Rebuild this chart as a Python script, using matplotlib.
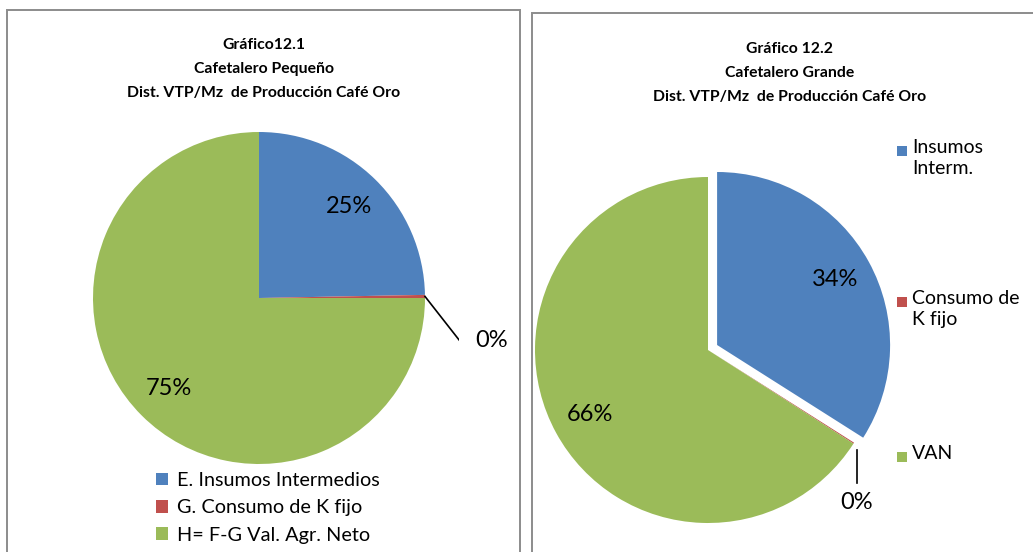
import numpy as np
import matplotlib.pyplot as plt
from matplotlib.patches import Rectangle

plt.rcParams['font.family'] = ['Lato', 'DejaVu Sans']

# data
labels_left = ["E. Insumos Intermedios", "G. Consumo de K fijo", "H= F-G Val. Agr. Neto"]
values_left = [24.7, 0.3, 75.0]
labels_right = ["Insumos\nInterm.", "Consumo de\nK fijo", "VAN"]
values_right = [34.0, 0.1, 65.9]
colors = ["#4F81BD", "#C0504D", "#9BBB59"]

title_left = "Gráfico12.1\nCafetalero Pequeño\nDist. VTP/Mz  de Producción Café Oro"
title_right = "Gráfico 12.2\nCafetalero Grande\nDist. VTP/Mz  de Producción Café Oro"

W, H = 1033, 552
fig = plt.figure(figsize=(W / 100, H / 100), dpi=100)


def px_axes(cx, cy, size=400):
    # square axes centred on pixel (cx, cy)
    return fig.add_axes([(cx - size / 2) / W, (H - cy - size / 2) / H, size / W, size / H])


def fix_limits(ax, r, size=400):
    # pie radius 1 -> r pixels
    lim = size / 2 / r
    ax.set_xlim(-lim, lim)
    ax.set_ylim(-lim, lim)
    ax.set_aspect('equal')
    ax.axis('off')


def pct(v):
    return "%d%%" % round(v)


# panel frames
fig.patches.append(Rectangle((7 / W, -0.05), (520 - 7) / W, (H - 10) / H + 0.05,
                             transform=fig.transFigure, fill=False, ec="#8c8c8c", lw=1.4))
fig.patches.append(Rectangle((532 / W, -0.05), 0.6, (H - 13) / H + 0.05,
                             transform=fig.transFigure, fill=False, ec="#8c8c8c", lw=1.4))

fig.text(264 / W, 1 - 69 / H, title_left, ha='center', va='center', fontsize=11.3,
         fontweight='bold', linespacing=1.9)
fig.text(790 / W, 1 - 73 / H, title_right, ha='center', va='center', fontsize=11.3,
         fontweight='bold', linespacing=1.9)

# left pie
ax1 = px_axes(259, 298)
w1, _ = ax1.pie(values_left, colors=colors, startangle=90, counterclock=False,
                radius=1, wedgeprops=dict(linewidth=0))
fix_limits(ax1, 166)
for w, v in zip(w1, values_left):
    th = np.deg2rad((w.theta1 + w.theta2) / 2)
    if v > 1:
        ax1.text(0.77 * np.cos(th), 0.77 * np.sin(th), pct(v), ha='center', va='center',
                 fontsize=17)
    else:
        x0, y0 = np.cos(th), np.sin(th)
        x1, y1 = x0 + 0.235, y0 - 0.30
        ax1.plot([x0, x1, x1 + 0.045], [y0, y1, y1], color='black', lw=1.2)
        ax1.text(x1 + 0.07, y1 + 0.035, pct(v), ha='left', va='center', fontsize=17)

ax1.legend(w1, labels_left, loc='upper left', bbox_to_anchor=(156 / W, 1 - 472 / H),
           bbox_transform=fig.transFigure, frameon=False, fontsize=14.3,
           handlelength=0.6, handleheight=0.6, handletextpad=0.45, labelspacing=0.52,
           borderpad=0, borderaxespad=0)

# right pie
ax2 = px_axes(708, 350)
w2, _ = ax2.pie(values_right, colors=colors, startangle=90, counterclock=False,
                radius=1, explode=[0.06, 0, 0], wedgeprops=dict(linewidth=0))
fix_limits(ax2, 173)
for w, v in zip(w2, values_right):
    th = np.deg2rad((w.theta1 + w.theta2) / 2)
    cx, cy = w.center
    if v > 1:
        ax2.text(cx + 0.78 * np.cos(th), cy + 0.78 * np.sin(th), pct(v), ha='center',
                 va='center', fontsize=17)
    else:
        x0, y0 = 1.02 * np.cos(th), 1.02 * np.sin(th)
        ax2.plot([x0, x0], [y0 - 0.03, y0 - 0.22], color='black', lw=1.2)
        ax2.text(x0, y0 - 0.33, pct(v), ha='center', va='center', fontsize=17)

# right legend, entries spread down the side
leg_y = [151, 302, 457]
for w, lab, y in zip(w2, labels_right, leg_y):
    fig.patches.append(Rectangle((897 / W, 1 - (y + 5) / H), 10 / W, 10 / H,
                                 transform=fig.transFigure, fc=w.get_facecolor(), ec='none'))
    fig.text(912 / W, 1 - (y - 12) / H, lab, ha='left', va='top', fontsize=14,
             linespacing=1.3)

fig.savefig("out.png", dpi=100)
